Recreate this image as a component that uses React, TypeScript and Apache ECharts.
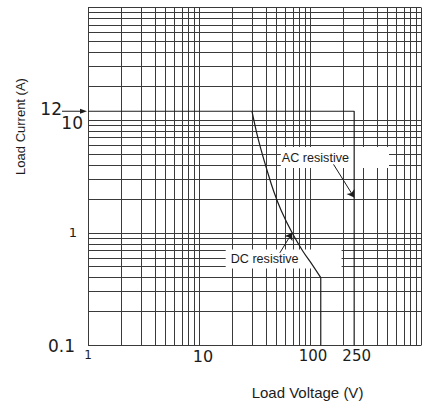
import React, { useEffect, useRef } from "react";
import * as echarts from "echarts";

// grid line positions (log-log paper)
const xGridValues = [1, 2, 3, 4, 5, 6, 7, 8, 9, 10, 20, 30, 40, 50, 60, 70, 80, 90, 100, 200, 300, 400, 500, 600, 700, 800, 900, 1000];
const yGridValues = [0.1, 0.2, 0.3, 0.4, 0.5, 0.6, 0.7, 0.8, 0.9, 1, 2, 3, 4, 5, 6, 7, 8, 9, 10, 20, 30, 40, 50, 60, 70, 80, 90, 100];

// tick labels
const xTickValues = [1, 10, 100];
const xTickLabels = ["1", "10", "100"];
const xExtraTick = 250;
const yTickValues = [0.1, 1, 10];
const yTickLabels = ["0.1", "1", "10"];
const yMarkedCurrent = 12;

// curves: [voltage V, current A]
const acResistive = [[1, 12], [250, 12], [250, 0.1]];
const dcResistiveCurve = [[30, 12], [33, 7.8], [36, 5.6], [41, 3.6], [47, 2.35], [55, 1.58], [69, 1], [86, 0.69], [105, 0.52], [125, 0.4]];
const dcResistiveDrop = [[125, 0.4], [125, 0.1]];

// annotations
const acLabelAt = [54.6, 4.66];
const acArrow = [[163, 4.05], [250, 2.06]];
const dcLabelAt = [17.4, 0.585];
const dcArrow = [[53.5, 0.664], [69, 1]];

const INK = "#1c1c1c";
const GRID = "#3a3a3a";
const NUM_FONT = "DejaVu Sans";
const TXT_FONT = "Liberation Sans";

function near(a: number, b: number) {
  return Math.abs(a - b) < 1e-6 * Math.max(1, Math.abs(b));
}

export default function App() {
  const ref = useRef<HTMLDivElement>(null);
  useEffect(() => {
    if (!ref.current) return;
    const chart = echarts.init(ref.current, undefined, { renderer: "svg" });
    const anchor = [1, 0.1];
    const option: any = {
      animation: false,
      grid: { left: 88, top: 7.5, width: 339, height: 338 },
      xAxis: {
        type: "log",
        logBase: 10,
        min: 1,
        max: 1000,
        axisLine: { show: false },
        axisTick: { show: false },
        splitLine: { show: false },
        axisLabel: {
          margin: 3,
          color: INK,
          fontFamily: NUM_FONT,
          formatter: (v: number) => {
            const i = xTickValues.findIndex((t) => near(v, t));
            if (i < 0) return "";
            const key = i === 0 ? "s" : i === 1 ? "m" : "n";
            return "{" + key + "|" + xTickLabels[i] + "}";
          },
          rich: {
            s: { fontSize: 12, fontFamily: NUM_FONT, color: INK },
            m: { fontSize: 16, fontFamily: NUM_FONT, color: INK, padding: [0, 0, 0, 8] },
            n: { fontSize: 15, fontFamily: NUM_FONT, color: INK, padding: [0, 0, 0, 6] },
          },
        },
      },
      yAxis: {
        type: "log",
        logBase: 10,
        min: 0.1,
        max: 100,
        axisLine: { show: false },
        axisTick: { show: false },
        splitLine: { show: false },
        axisLabel: {
          margin: 5,
          color: INK,
          fontFamily: NUM_FONT,
          formatter: (v: number) => {
            const i = yTickValues.findIndex((t) => near(v, t));
            if (i < 0) return "";
            const key = i === 0 ? "a" : i === 1 ? "b" : "c";
            return "{" + key + "|" + yTickLabels[i] + "}";
          },
          rich: {
            a: { fontSize: 17, fontFamily: NUM_FONT, color: INK, padding: [0, 8, 0, 0] },
            b: { fontSize: 13, fontFamily: NUM_FONT, color: INK, padding: [0, 6, 0, 0] },
            c: { fontSize: 17, fontFamily: NUM_FONT, color: INK, padding: [6, 0, 0, 0] },
          },
        },
      },
      series: [
        {
          name: "grid",
          type: "line",
          data: [anchor],
          symbol: "none",
          silent: true,
          lineStyle: { width: 0 },
          z: 1,
          markLine: {
            silent: true,
            symbol: "none",
            z: 1,
            label: { show: false },
            lineStyle: { color: GRID, width: 1, type: "solid" },
            data: [
              ...xGridValues.map((v) => ({ xAxis: v })),
              ...yGridValues.map((v) => ({ yAxis: v })),
            ],
          },
        },
        {
          name: "labels",
          type: "line",
          data: [anchor],
          symbol: "none",
          silent: true,
          lineStyle: { width: 0 },
          z: 3,
          markPoint: {
            silent: true,
            symbol: "rect",
            symbolSize: 0,
            z: 3,
            data: [
              {
                name: "AC resistive",
                coord: acLabelAt,
                label: {
                  show: true,
                  position: "right",
                  distance: 0,
                  formatter: "{b}",
                  fontFamily: TXT_FONT,
                  fontSize: 12.6,
                  color: INK,
                  backgroundColor: "#ffffff",
                  padding: [5, 40, 3, 1],
                },
              },
              {
                name: "DC resistive",
                coord: dcLabelAt,
                label: {
                  show: true,
                  position: "right",
                  distance: 0,
                  formatter: "{b}",
                  fontFamily: TXT_FONT,
                  fontSize: 12.6,
                  color: INK,
                  backgroundColor: "#ffffff",
                  padding: [3, 43, 3, 5],
                },
              },
              {
                name: String(xExtraTick),
                coord: [xExtraTick, 0.1],
                label: {
                  show: true,
                  position: "bottom",
                  distance: 3,
                  formatter: "{b}",
                  fontFamily: NUM_FONT,
                  fontSize: 15,
                  color: INK,
                  padding: [0, 0, 0, 5],
                },
              },
            ],
          },
        },
        {
          name: "AC resistive",
          type: "line",
          data: acResistive,
          symbol: "none",
          silent: true,
          z: 4,
          lineStyle: { color: INK, width: 1.2 },
        },
        {
          name: "DC resistive",
          type: "line",
          data: dcResistiveCurve,
          symbol: "none",
          smooth: 0.4,
          silent: true,
          z: 4,
          lineStyle: { color: INK, width: 1.2 },
        },
        {
          name: "DC resistive drop",
          type: "line",
          data: dcResistiveDrop,
          symbol: "none",
          silent: true,
          z: 4,
          lineStyle: { color: INK, width: 1.2 },
        },
        {
          name: "arrows",
          type: "line",
          data: [anchor],
          symbol: "none",
          silent: true,
          lineStyle: { width: 0 },
          z: 5,
          markLine: {
            silent: true,
            z: 5,
            symbol: ["none", "arrow"],
            symbolSize: 7,
            label: { show: false },
            lineStyle: { color: INK, width: 1, type: "solid" },
            itemStyle: { color: INK },
            data: [
              [{ coord: acArrow[0] }, { coord: acArrow[1] }],
              [{ coord: dcArrow[0] }, { coord: dcArrow[1] }],
            ],
          },
        },
      ],
    };
    chart.setOption(option);

    const p = chart.convertToPixel({ xAxisIndex: 0, yAxisIndex: 0 }, [1, yMarkedCurrent]) as number[];
    chart.setOption({
      graphic: [
        {
          type: "line",
          silent: true,
          shape: { x1: p[0] - 26, y1: p[1], x2: p[0] - 6, y2: p[1] },
          style: { stroke: INK, lineWidth: 1 },
        },
        {
          type: "polygon",
          silent: true,
          shape: { points: [[p[0] - 1, p[1]], [p[0] - 8, p[1] - 2.5], [p[0] - 8, p[1] + 2.5]] },
          style: { fill: INK },
        },
        {
          type: "text",
          silent: true,
          x: p[0] - 26,
          y: p[1] + 6,
          style: {
            text: String(yMarkedCurrent),
            fontSize: 17,
            fontFamily: NUM_FONT,
            fill: INK,
            align: "right",
            verticalAlign: "bottom",
            textAlign: "right",
            textVerticalAlign: "bottom",
          },
        },
        {
          type: "text",
          silent: true,
          x: 307.5,
          y: 392,
          style: {
            text: "Load Voltage (V)",
            fontSize: 15,
            fontFamily: TXT_FONT,
            fill: INK,
            align: "center",
            verticalAlign: "middle",
            textAlign: "center",
            textVerticalAlign: "middle",
          },
        },
        {
          type: "text",
          silent: true,
          x: 20,
          y: 126.5,
          rotation: Math.PI / 2,
          style: {
            text: "Load Current (A)",
            fontSize: 13,
            fontFamily: TXT_FONT,
            fill: INK,
            align: "center",
            verticalAlign: "middle",
            textAlign: "center",
            textVerticalAlign: "middle",
          },
        },
      ],
    });

    return () => chart.dispose();
  }, []);
  return (
    <div
      ref={ref}
      style={{ position: "absolute", left: 0, top: 0, width: 424, height: 404 }}
    />
  );
}
